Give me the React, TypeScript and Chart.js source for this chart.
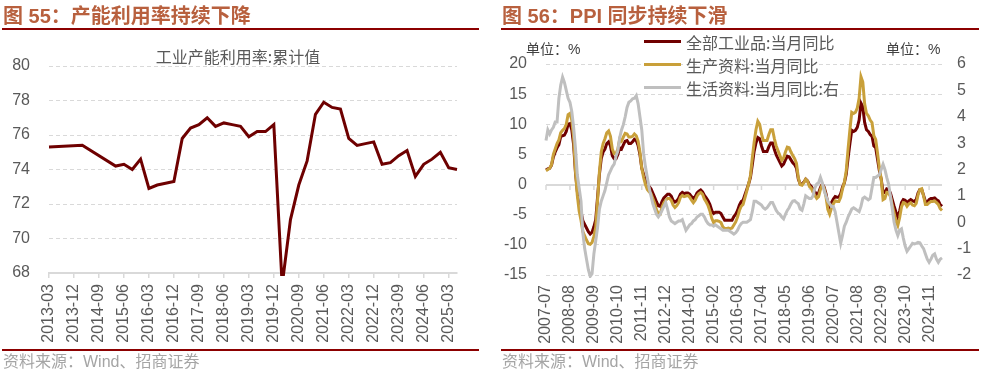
import React, { useEffect, useRef } from 'react';
import { Chart, registerables } from 'chart.js';
Chart.register(...registerables);

const NUM_FONT = 'Arial, "Liberation Sans", sans-serif';
const CJK_FONT = '"Noto Sans CJK SC", "Noto Sans", sans-serif';
const AXIS_COLOR = '#595959';
const GRID_COLOR = '#d9d9d9';

function buildMonthLabels(startYear: number, startMonth: number, count: number, step: number): string[] {
  const out: string[] = [];
  let y = startYear;
  let m = startMonth;
  for (let i = 0; i < count; i++) {
    out.push(`${y}-${m < 10 ? '0' + m : m}`);
    m += step;
    while (m > 12) { m -= 12; y += 1; }
  }
  return out;
}

// ---------- Figure 55: capacity utilisation (quarterly, cumulative) ----------
const capLabels = buildMonthLabels(2013, 3, 50, 3); // 2013-03 ... 2025-06
const capValues: (number | null)[] = [
  75.3, null, null, null, // 2013
  75.4, null, null, null, // 2014
  74.2, 74.3, 74.0, 74.6, // 2015
  72.9, 73.1, 73.2, 73.3, // 2016
  75.8, 76.4, 76.6, 77.0, // 2017
  76.5, 76.7, 76.6, 76.5, // 2018
  75.9, 76.2, 76.2, 76.6, // 2019
  67.3, 71.1, 73.1, 74.5, // 2020
  77.2, 77.9, 77.6, 77.5, // 2021
  75.8, 75.4, 75.5, 75.6, // 2022
  74.3, 74.4, 74.8, 75.1, // 2023
  73.6, 74.3, 74.6, 75.0, // 2024
  74.1, 74.0,             // 2025
];
const capTickEvery = 3;

// ---------- Figure 56: PPI (monthly, yoy %) ----------
const ppiLabels = buildMonthLabels(2007, 7, 216, 1); // 2007-07 ... 2025-06
const ppiTickEvery = 13;
const ppiAll: number[] = [
  2.4, 2.6, 2.7, 3.2, 4.6, 5.4,
  6.1, 6.6, 8.0, 8.1, 8.2, 8.8, 10.0, 10.1, 9.1, 6.6, 2.0, -1.1,
  -3.3, -4.5, -6.0, -6.6, -7.2, -7.8, -8.2, -7.9, -7.0, -5.8, -2.1, 1.7,
  4.3, 5.4, 5.9, 6.8, 7.1, 6.4, 4.8, 4.3, 4.3, 5.0, 6.1, 5.9,
  6.6, 7.2, 7.3, 6.8, 6.8, 7.1, 7.5, 7.3, 6.5, 5.0, 2.7, 1.7,
  0.7, 0.0, -0.3, -0.7, -1.4, -2.1, -2.9, -3.5, -3.6, -2.8, -2.2, -1.9,
  -1.6, -1.6, -1.9, -2.6, -2.9, -2.7, -2.3, -1.6, -1.3, -1.5, -1.4, -1.4,
  -1.6, -2.0, -2.3, -2.0, -1.4, -1.1, -0.9, -1.2, -1.8, -2.2, -2.7, -3.3,
  -4.3, -4.8, -4.6, -4.6, -4.6, -4.8, -5.4, -5.9, -5.9, -5.9, -5.9, -5.9,
  -5.3, -4.9, -4.3, -3.4, -2.8, -2.6, -1.7, -0.8, 0.1, 1.2, 3.3, 5.5,
  6.9, 7.8, 7.6, 6.4, 5.5, 5.5, 5.5, 6.3, 6.9, 6.9, 5.8, 4.9,
  4.3, 3.7, 3.1, 3.4, 4.1, 4.7, 4.6, 4.1, 3.6, 3.3, 2.7, 0.9,
  0.1, 0.1, 0.4, 0.9, 0.6, 0.0, -0.3, -0.8, -1.2, -1.6, -1.4, -0.5,
  0.1, -0.4, -1.5, -3.1, -3.7, -3.0, -2.4, -2.0, -2.1, -2.1, -1.5, -0.4,
  0.3, 1.7, 4.4, 6.8, 9.0, 8.8, 9.0, 9.5, 10.7, 13.5, 12.9, 10.3,
  9.1, 8.8, 8.3, 8.0, 6.4, 6.1, 4.2, 2.3, 0.9, -1.3, -1.3, -0.7,
  -0.8, -1.4, -2.5, -3.6, -4.6, -5.4, -4.4, -3.0, -2.5, -2.6, -3.0, -2.7,
  -2.5, -2.7, -2.8, -2.5, -1.4, -0.8, -0.8, -1.8, -2.8, -2.9, -2.5, -2.3,
  -2.3, -2.2, -2.5, -2.7, -3.3, -3.6,
];
const ppiProducer: number[] = [
  2.3, 2.5, 2.7, 3.3, 5.0, 5.9,
  6.8, 7.4, 8.6, 9.0, 9.3, 10.0, 11.6, 11.8, 10.7, 7.7, 2.2, -1.8,
  -4.4, -5.9, -7.8, -8.5, -9.2, -9.8, -9.9, -9.6, -8.6, -7.1, -2.6, 2.1,
  5.4, 6.8, 7.6, 8.6, 8.9, 8.0, 5.9, 5.1, 5.1, 5.9, 7.5, 7.2,
  7.9, 8.5, 8.4, 7.9, 7.9, 8.0, 8.4, 8.1, 7.2, 5.4, 2.7, 1.2,
  0.0, -0.8, -1.2, -1.5, -2.3, -3.1, -4.2, -4.8, -4.9, -3.7, -3.0, -2.6,
  -2.3, -2.3, -2.6, -3.4, -3.8, -3.5, -3.0, -2.1, -1.8, -2.0, -1.9, -1.8,
  -2.1, -2.6, -3.0, -2.6, -1.9, -1.5, -1.3, -1.6, -2.4, -2.9, -3.5, -4.4,
  -5.6, -6.3, -6.0, -6.0, -6.1, -6.3, -7.0, -7.3, -7.3, -7.2, -7.3, -7.2,
  -6.7, -6.2, -5.4, -4.3, -3.6, -3.3, -2.2, -1.1, 0.1, 1.5, 4.4, 7.0,
  9.1, 10.5, 10.0, 8.4, 7.3, 7.3, 7.3, 8.3, 9.1, 9.1, 7.6, 6.4,
  5.6, 4.8, 4.0, 4.4, 5.4, 6.2, 6.1, 5.4, 4.8, 4.3, 3.5, 1.1,
  0.0, -0.1, 0.3, 0.9, 0.6, -0.3, -0.6, -1.3, -1.8, -2.3, -2.0, -0.8,
  0.0, -0.6, -2.0, -4.1, -4.9, -3.9, -3.2, -2.7, -2.8, -2.8, -2.1, -0.7,
  0.4, 2.3, 5.9, 9.1, 12.0, 11.8, 12.0, 12.7, 14.3, 17.9, 17.0, 13.4,
  11.8, 11.4, 10.7, 10.3, 8.1, 7.5, 5.2, 2.7, 0.9, -2.5, -2.3, -1.3,
  -1.4, -2.0, -3.4, -4.7, -6.1, -6.8, -5.5, -3.7, -3.0, -3.1, -3.6, -3.2,
  -3.0, -3.4, -3.5, -3.1, -1.7, -0.8, -0.7, -1.9, -3.3, -3.3, -3.0, -2.8,
  -2.8, -2.7, -3.0, -3.3, -4.0, -4.3,
];
const ppiConsumer: number[] = [
  3.1, 3.5, 3.35, 3.5, 3.6, 3.8,
  3.8, 4.7, 5.2, 5.5, 5.3, 5.0, 4.7, 4.55, 4.2, 3.6, 2.8, 1.8,
  1.3, 0.8, -0.4, -1.0, -1.4, -1.8, -2.05, -1.95, -1.2, -0.7, -0.2, 0.5,
  0.8, 1.0, 1.2, 1.5, 1.8, 1.95, 2.1, 2.2, 2.5, 2.7, 3.2, 3.5,
  3.7, 4.0, 4.35, 4.55, 4.6, 4.68, 4.7, 4.8, 4.5, 4.0, 3.5, 2.6,
  2.1, 1.7, 1.3, 1.0, 0.7, 0.5, 0.3, 0.2, 0.3, 0.45, 0.6, 0.75,
  0.5, 0.2, 0.05, 0.0, -0.05, 0.0, 0.05, 0.05, 0.1, -0.1, -0.3, -0.2,
  -0.1, -0.05, 0.05, 0.1, 0.2, 0.25, 0.3, 0.3, 0.2, 0.05, -0.05, -0.1,
  -0.1, -0.15, -0.1, -0.15, -0.2, -0.25, -0.3, -0.3, -0.3, -0.3, -0.35, -0.4,
  -0.45, -0.4, -0.3, -0.15, -0.05, 0.0, 0.0, 0.0, 0.05, 0.1, 0.4, 0.8,
  0.8, 0.75, 0.7, 0.65, 0.55, 0.5, 0.55, 0.65, 0.75, 0.75, 0.6, 0.45,
  0.35, 0.3, 0.2, 0.13, 0.3, 0.45, 0.55, 0.7, 0.8, 0.82, 0.75, 0.7,
  0.5, 0.45, 0.7, 1.0, 0.95, 0.9, 0.9, 1.0, 1.3, 1.45, 1.5, 1.7,
  1.5, 1.2, 1.0, 0.8, 0.7, 0.6, 0.6, 0.4, 0.0, -0.4, -0.8, -0.5,
  -0.15, 0.0, 0.2, 0.35, 0.5, 0.55, 0.5, 0.45, 0.4, 0.6, 0.9, 0.95,
  0.9, 0.85, 0.9, 1.3, 1.7, 1.7, 1.75, 1.8, 2.0, 2.2, 2.0, 1.7,
  1.45, 1.0, 0.5, 0.0, -0.3, -0.5, -0.3, -0.25, -0.6, -0.9, -1.1, -1.0,
  -0.9, -0.8, -0.82, -0.8, -0.76, -0.78, -0.9, -1.0, -1.2, -1.4, -1.52, -1.4,
  -1.25, -1.2, -1.4, -1.52, -1.4, -1.35,
];
const ppiSeriesNames = ['全部工业品:当月同比', '生产资料:当月同比', '生活资料:当月同比:右'];
const ppiColors = ['#700000', '#C9A03A', '#BFBFBF'];

const capColor = '#6E0000';

function LeftChart() {
  const ref = useRef<HTMLCanvasElement>(null);
  useEffect(() => {
    const chart = new Chart(ref.current!, {
      type: 'line',
      data: {
        labels: capLabels,
        datasets: [{
          label: '工业产能利用率:累计值',
          data: capValues,
          borderColor: capColor,
          borderWidth: 3,
          pointRadius: 0,
          tension: 0,
          spanGaps: true,
          clip: { left: 4, right: 4, top: 4, bottom: 3 } as any,
        }],
      },
      options: {
        animation: false,
        responsive: false,
        events: [],
        layout: { padding: { left: 0, right: 37, top: 66, bottom: 0 } },
        plugins: { legend: { display: false }, tooltip: { enabled: false } },
        scales: {
          x: {
            type: 'category',
            offset: false,
            grid: {
              display: true,
              drawOnChartArea: false,
              drawTicks: true,
              tickLength: 5,
              lineWidth: 1.5,
              color: (c: any) => (c.index % capTickEvery === 0 ? GRID_COLOR : 'rgba(0,0,0,0)'),
            },
            border: { display: true, color: GRID_COLOR, width: 2 },
            ticks: {
              autoSkip: false,
              maxRotation: 90,
              minRotation: 90,
              padding: 6,
              color: AXIS_COLOR,
              font: { family: NUM_FONT, size: 16 },
              callback: (_v: any, i: number) => (i % capTickEvery === 0 ? capLabels[i] : ''),
            },
            afterFit: (s: any) => { s.height = 100; },
          },
          y: {
            min: 68,
            max: 80,
            ticks: { stepSize: 2, padding: 19, color: AXIS_COLOR, font: { family: NUM_FONT, size: 16 } },
            grid: {
              drawTicks: false,
              lineWidth: 1,
              color: (c: any) => (c.tick && c.tick.value === 68 ? 'rgba(0,0,0,0)' : GRID_COLOR),
            },
            border: { display: false, dash: [4, 3] },
            afterFit: (s: any) => { s.width = 49; },
          },
        },
      },
    });
    return () => chart.destroy();
  }, []);
  return <canvas ref={ref} width={494} height={373} style={{ position: 'absolute', left: 0, top: 0, width: 494, height: 373 }} />;
}

const zeroLinePlugin = {
  id: 'zeroLine',
  beforeDatasetsDraw(chart: any) {
    const { ctx, chartArea, scales } = chart;
    const y0 = Math.round(scales.y.getPixelForValue(0));
    ctx.save();
    ctx.strokeStyle = GRID_COLOR;
    ctx.lineWidth = 2;
    ctx.beginPath();
    ctx.moveTo(chartArea.left, y0);
    ctx.lineTo(chartArea.right, y0);
    ctx.stroke();
    ctx.lineWidth = 1.5;
    ctx.beginPath();
    for (let i = 0; i < ppiLabels.length; i += ppiTickEvery) {
      const x = scales.x.getPixelForValue(i);
      ctx.moveTo(x, y0);
      ctx.lineTo(x, y0 + 5);
    }
    ctx.stroke();
    ctx.restore();
  },
};

const ppiLegendPlugin = {
  id: 'ppiLegend',
  afterDatasetsDraw(chart: any) {
    const { ctx } = chart;
    const rows = [41.5, 64.5, 87.5];
    ctx.save();
    ctx.font = `16px ${CJK_FONT}`;
    ctx.textBaseline = 'middle';
    ctx.textAlign = 'left';
    chart.data.datasets.forEach((ds: any, i: number) => {
      const y = rows[i];
      ctx.strokeStyle = ds.borderColor;
      ctx.lineWidth = 3;
      ctx.beginPath();
      ctx.moveTo(150, y);
      ctx.lineTo(187, y);
      ctx.stroke();
      ctx.fillStyle = AXIS_COLOR;
      ctx.fillText(ds.label, 192, y + 1);
    });
    ctx.restore();
  },
};

function RightChart() {
  const ref = useRef<HTMLCanvasElement>(null);
  useEffect(() => {
    const mk = (i: number, data: number[], axis: string, order: number) => ({
      label: ppiSeriesNames[i],
      data,
      yAxisID: axis,
      borderColor: ppiColors[i],
      backgroundColor: ppiColors[i],
      borderWidth: 3,
      pointRadius: 0,
      tension: 0,
      order,
      clip: { left: 4, right: 4, top: 4, bottom: 3 } as any,
    });
    const chart = new Chart(ref.current!, {
      type: 'line',
      data: {
        labels: ppiLabels,
        datasets: [
          mk(0, ppiAll, 'y', 2),
          mk(1, ppiProducer, 'y', 1),
          mk(2, ppiConsumer, 'y1', 0),
        ],
      },
      options: {
        animation: false,
        responsive: false,
        events: [],
        layout: { padding: { left: 0, right: 0, top: 64, bottom: 0 } },
        plugins: { legend: { display: false }, tooltip: { enabled: false } },
        scales: {
          x: {
            type: 'category',
            offset: false,
            grid: { display: false, drawTicks: false },
            border: { display: false },
            ticks: {
              autoSkip: false,
              maxRotation: 90,
              minRotation: 90,
              padding: 10,
              color: AXIS_COLOR,
              font: { family: NUM_FONT, size: 16 },
              callback: (_v: any, i: number) => (i % ppiTickEvery === 0 ? ppiLabels[i] : ''),
            },
            afterFit: (s: any) => { s.height = 98; },
          },
          y: {
            position: 'left',
            min: -15,
            max: 20,
            ticks: { stepSize: 5, padding: 19, color: AXIS_COLOR, font: { family: NUM_FONT, size: 16 } },
            grid: {
              drawTicks: false,
              lineWidth: 1,
              color: (c: any) => (c.tick && c.tick.value === 0 ? 'rgba(0,0,0,0)' : GRID_COLOR),
            },
            border: { display: false, dash: [4, 3] },
            afterFit: (s: any) => { s.width = 52; },
          },
          y1: {
            position: 'right',
            min: -2,
            max: 6,
            ticks: { stepSize: 1, padding: 15, color: AXIS_COLOR, font: { family: NUM_FONT, size: 16 } },
            grid: { drawOnChartArea: false, drawTicks: false },
            border: { display: false },
            afterFit: (s: any) => { s.width = 46; },
          },
        },
      },
      plugins: [zeroLinePlugin, ppiLegendPlugin],
    });
    return () => chart.destroy();
  }, []);
  return <canvas ref={ref} width={494} height={373} style={{ position: 'absolute', left: 494, top: 0, width: 494, height: 373 }} />;
}

const headingStyle: React.CSSProperties = {
  position: 'absolute',
  top: 6,
  fontFamily: `Arial, ${CJK_FONT}`,
  fontWeight: 'bold',
  fontSize: 20,
  lineHeight: '20px',
  color: '#B8603E',
  whiteSpace: 'nowrap',
};
const sourceStyle: React.CSSProperties = {
  position: 'absolute',
  top: 353,
  fontFamily: `Arial, ${CJK_FONT}`,
  fontSize: 16,
  lineHeight: '17px',
  color: '#A5A5A5',
  whiteSpace: 'nowrap',
};
const unitStyle: React.CSSProperties = {
  position: 'absolute',
  top: 41,
  fontFamily: `Arial, ${CJK_FONT}`,
  fontSize: 14,
  lineHeight: '16px',
  color: '#404040',
  whiteSpace: 'nowrap',
};
const rule = (left: number, top: number, width: number): React.CSSProperties => ({
  position: 'absolute', left, top, width, height: 2, background: '#8C0000',
});

export default function App() {
  return (
    <div style={{ position: 'absolute', left: 0, top: 0, width: 988, height: 373, background: '#ffffff', overflow: 'hidden' }}>
      <LeftChart />
      <RightChart />
      <div style={{ ...headingStyle, left: 3 }}>图 55：产能利用率持续下降</div>
      <div style={{ ...headingStyle, left: 502 }}>图 56：PPI 同步持续下滑</div>
      <div style={rule(2, 28, 477)} />
      <div style={rule(501, 28, 478)} />
      <div style={{ position: 'absolute', left: 0, width: 476, top: 47, textAlign: 'center', fontFamily: CJK_FONT, fontSize: 16, lineHeight: '18px', color: AXIS_COLOR }}>
        工业产能利用率:累计值
      </div>
      <div style={{ ...unitStyle, left: 526 }}>单位：%</div>
      <div style={{ ...unitStyle, left: 886 }}>单位：%</div>
      <div style={rule(2, 349, 477)} />
      <div style={rule(501, 349, 478)} />
      <div style={{ ...sourceStyle, left: 3 }}>资料来源：Wind、招商证券</div>
      <div style={{ ...sourceStyle, left: 502 }}>资料来源：Wind、招商证券</div>
    </div>
  );
}
